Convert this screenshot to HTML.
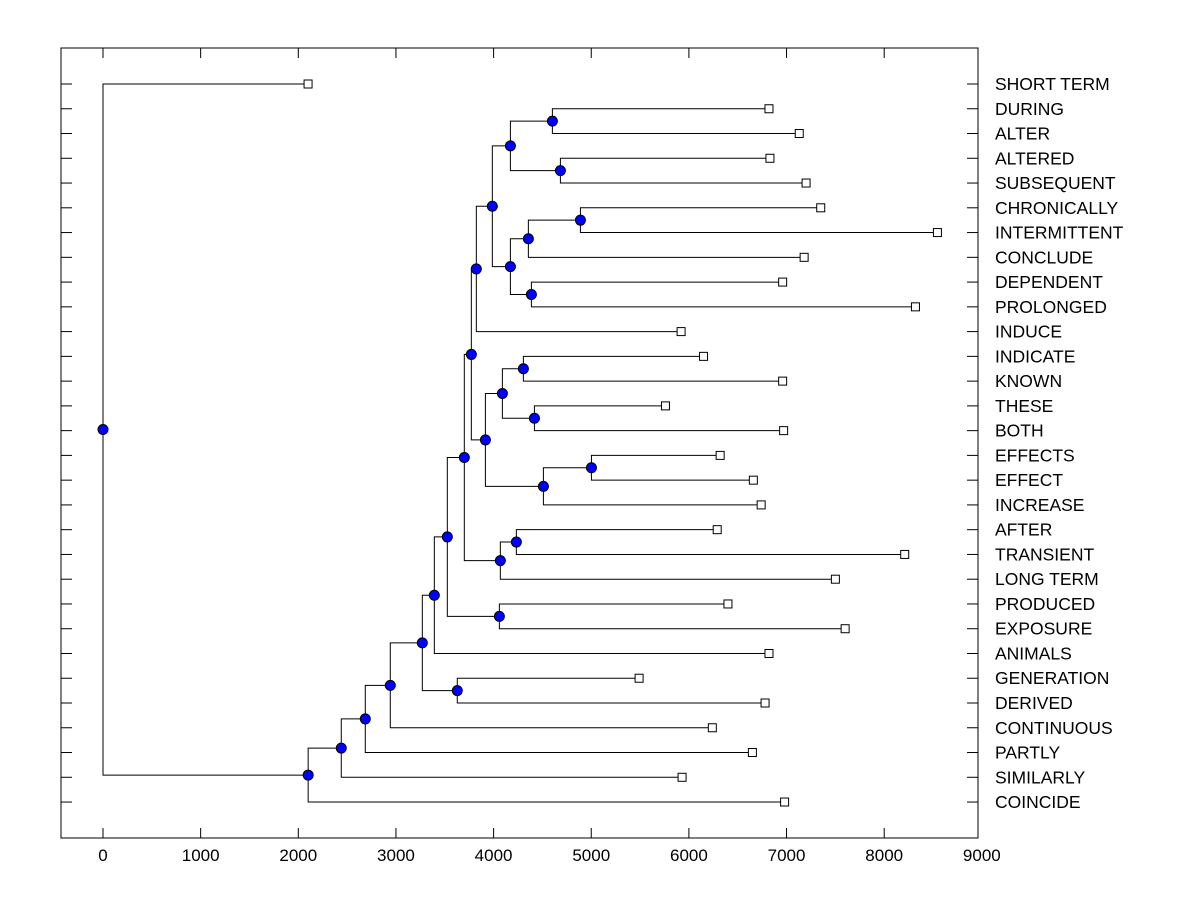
<!DOCTYPE html>
<html><head><meta charset="utf-8"><style>
body{margin:0;background:#fff;}
svg text{font-family:"Liberation Sans",Arial,sans-serif;font-size:17.5px;fill:#000;}
svg text.tick{font-size:17px;}
</style></head><body>
<svg id="chart" width="1200" height="900"></svg>
<script>
const leaves = ["SHORT TERM","DURING","ALTER","ALTERED","SUBSEQUENT","CHRONICALLY","INTERMITTENT","CONCLUDE","DEPENDENT","PROLONGED","INDUCE","INDICATE","KNOWN","THESE","BOTH","EFFECTS","EFFECT","INCREASE","AFTER","TRANSIENT","LONG TERM","PRODUCED","EXPOSURE","ANIMALS","GENERATION","DERIVED","CONTINUOUS","PARTLY","SIMILARLY","COINCIDE"];
const leafValues = [2100,6820,7130,6830,7200,7350,8545,7180,6960,8320,5920,6150,6960,5760,6970,6320,6660,6740,6290,8210,7500,6400,7600,6820,5490,6780,6240,6650,5930,6980];
const mergeIds = ["m1","m2","m3","m4","m5","m6","m7","m8","m9","m10","m11","m12","m13","m14","m15","m16","m17","m18","m19","m20","m21","m22","m23","m24","m25","m26","m27","m28","m29"];
const mergeA = ["DURING","ALTERED","m1","CHRONICALLY","m4","DEPENDENT","m5","m3","m8","INDICATE","THESE","m10","EFFECTS","m13","m12","m9","AFTER","m17","m16","PRODUCED","m19","m21","GENERATION","m22","m24","m25","m26","m27","SHORT TERM"];
const mergeB = ["ALTER","SUBSEQUENT","m2","INTERMITTENT","CONCLUDE","PROLONGED","m6","m7","INDUCE","KNOWN","BOTH","m11","EFFECT","INCREASE","m14","m15","TRANSIENT","LONG TERM","m18","EXPOSURE","m20","ANIMALS","DERIVED","m23","CONTINUOUS","PARTLY","SIMILARLY","COINCIDE","m28"];
const mergeH = [4602,4684,4172,4889,4356,4387,4172,3987,3823,4305,4418,4090,5002,4510,3916,3772,4233,4069,3700,4059,3526,3393,3628,3270,2942,2686,2440,2101,0];
const xTicks = [0,1000,2000,3000,4000,5000,6000,7000,8000,9000];

const svg=document.getElementById('chart');const NS='http://www.w3.org/2000/svg';
const L=61,R=978,T=48,B=838;
const xs=v=>103+v*0.09765;
const ys=i=>84+i*24.76;
function mk(tag,attrs,parent){const e=document.createElementNS(NS,tag);for(const k in attrs)e.setAttribute(k,attrs[k]);(parent||svg).appendChild(e);return e;}
const frame=mk('rect',{x:L,y:T,width:R-L,height:B-T,fill:'none',stroke:'#000','stroke-width':1});


const pos={};
leaves.forEach((n,i)=>{pos[n]={x:xs(leafValues[i]),y:ys(i),leaf:true};});
const lines=mk('g',{stroke:'#000','stroke-width':1,fill:'none'});


const nodes=[];
mergeIds.forEach((id,i)=>{
  const a=pos[mergeA[i]],b=pos[mergeB[i]],x=xs(mergeH[i]);
  pos[id]={x:x,y:(a.y+b.y)/2};
  const p=mk('path',{d:`M${a.x} ${a.y}H${x}V${b.y}H${b.x}`},lines);
  
  
  nodes.push(pos[id]);
});
const tk=mk('g',{stroke:'#000','stroke-width':1});


leaves.forEach((n,i)=>{
  const y=ys(i);
  mk('line',{x1:L,x2:L+11,y1:y,y2:y},tk);
  mk('line',{x1:R-11,x2:R,y1:y,y2:y},tk);
  const t=mk('text',{x:995,y:y+6});t.textContent=n;
  
  
});
xTicks.forEach(v=>{
  const x=xs(v);
  if(x<=R){
    mk('line',{x1:x,x2:x,y1:B,y2:B-10},tk);
    mk('line',{x1:x,x2:x,y1:T,y2:T+10},tk);
  }
  const t=mk('text',{x:x,y:861,'text-anchor':'middle','class':'tick'});t.textContent=v;
  
  
});
leaves.forEach(n=>{
  const p=pos[n];
  const r=mk('rect',{x:p.x-4,y:p.y-4,width:8,height:8,fill:'#fff',stroke:'#000'});
  
  
});
nodes.forEach(p=>{
  const c=mk('circle',{cx:p.x,cy:p.y,r:5,fill:'#0000ff',stroke:'#000'});
  
  
});
</script>
</body></html>
